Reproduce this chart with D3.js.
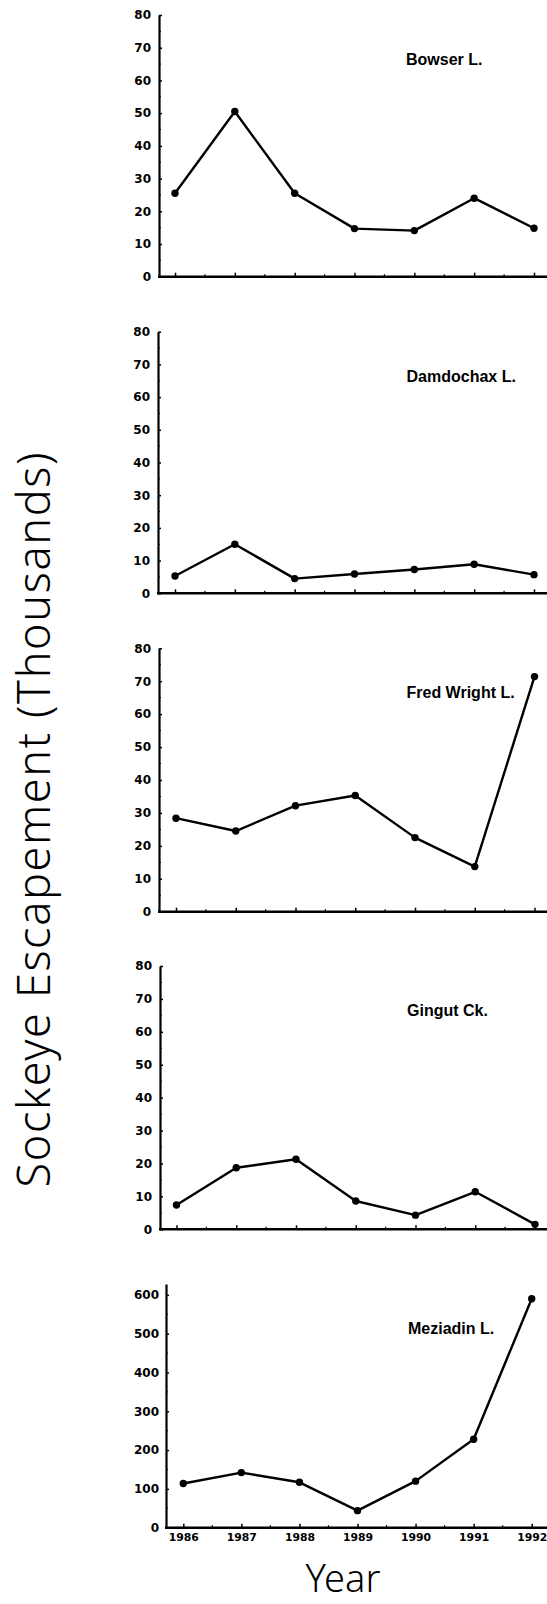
<!DOCTYPE html>
<html>
<head>
<meta charset="utf-8">
<script src="https://cdn.jsdelivr.net/npm/d3@7"></script>
<style>
  html, body { margin: 0; padding: 0; background: #fff; }
  svg { display: block; }
</style>
</head>
<body>
<script>
// ---- DATA ----
const years = [1986, 1987, 1988, 1989, 1990, 1991, 1992];
const lakes = ["Bowser L.", "Damdochax L.", "Fred Wright L.", "Gingut Ck.", "Meziadin L."];
const bowser     = [25.5, 50.5, 25.5, 14.7, 14.1, 24.0, 14.8];
const damdochax  = [5.3, 15.0, 4.5, 5.9, 7.3, 8.9, 5.7];
const fredWright = [28.4, 24.5, 32.2, 35.3, 22.5, 13.7, 71.4];
const gingut     = [7.4, 18.7, 21.3, 8.6, 4.3, 11.4, 1.5];
const meziadin   = [114, 142, 117, 44, 120, 228, 590];
const smallTicks = [0, 10, 20, 30, 40, 50, 60, 70, 80];
const largeTicks = [0, 100, 200, 300, 400, 500, 600];
const yLabel = "Sockeye Escapement (Thousands)";
const xLabel = "Year";

const W = 547, H = 1604;
const svg = d3.select("body").append("svg").attr("width", W).attr("height", H);

const panels = [
  { name: lakes[0], values: bowser,     ticks: smallTicks, max: 80,  axisX: 159, x0: 175, x1: 534, yTop: 15,    yBot: 276.7, labelX: 406, showYears: false },
  { name: lakes[1], values: damdochax,  ticks: smallTicks, max: 80,  axisX: 158, x0: 175, x1: 534, yTop: 331.7, yBot: 593.3, labelX: 406.5, showYears: false },
  { name: lakes[2], values: fredWright, ticks: smallTicks, max: 80,  axisX: 159, x0: 176, x1: 534.5, yTop: 648.3, yBot: 911.7, labelX: 406.5, showYears: false },
  { name: lakes[3], values: gingut,     ticks: smallTicks, max: 80,  axisX: 160, x0: 176.5, x1: 535, yTop: 966,   yBot: 1229.3, labelX: 407, showYears: false },
  { name: lakes[4], values: meziadin,   ticks: largeTicks, max: 628, axisX: 166, x0: 183.3, x1: 531.7, yTop: 1284, yBot: 1527.7, labelX: 408, showYears: true }
];

panels.forEach(p => {
  const g = svg.append("g");
  const x = d3.scaleLinear().domain([years[0], years[years.length - 1]]).range([p.x0, p.x1]);
  const y = d3.scaleLinear().domain([0, p.max]).range([p.yBot, p.yTop]);

  // y axis (major ticks inward)
  const yAxis = d3.axisLeft(y).tickValues(p.ticks).tickSizeInner(-3).tickSizeOuter(0)
    .tickPadding(p.showYears ? 7 : 8).tickFormat(d3.format("d"));
  const ya = g.append("g").attr("transform", `translate(${p.axisX},0)`).call(yAxis);
  ya.select(".domain").attr("stroke", "#000").attr("stroke-width", 2.2);
  ya.selectAll(".tick line").attr("stroke", "#000").attr("stroke-width", 1.5);
  ya.selectAll(".tick text")
    .attr("font-family", "'DejaVu Sans', sans-serif").attr("font-weight", "bold")
    .attr("font-size", 12).attr("fill", "#000");

  // minor y ticks
  const step = p.ticks[1] - p.ticks[0];
  const minor = p.ticks.slice(0, -1).map(t => t + step / 2);
  g.append("g").selectAll("line").data(minor).join("line")
    .attr("x1", p.axisX).attr("x2", p.axisX + 2)
    .attr("y1", d => y(d)).attr("y2", d => y(d))
    .attr("stroke", "#000").attr("stroke-width", 1);

  // x axis line
  g.append("line").attr("x1", p.axisX - 1).attr("x2", W)
    .attr("y1", p.yBot).attr("y2", p.yBot)
    .attr("stroke", "#000").attr("stroke-width", 2.4);

  // x ticks (upward)
  const xAxis = d3.axisBottom(x).tickValues(years).tickSizeInner(-4).tickSizeOuter(0)
    .tickPadding(6).tickFormat(p.showYears ? d3.format("d") : () => "");
  const xa = g.append("g").attr("transform", `translate(0,${p.yBot})`).call(xAxis);
  xa.select(".domain").remove();
  xa.selectAll(".tick line").attr("stroke", "#000").attr("stroke-width", 1.5);
  xa.selectAll(".tick text")
    .attr("font-family", "'DejaVu Sans', sans-serif").attr("font-weight", "bold")
    .attr("font-size", 10.8).attr("fill", "#000").attr("dy", "0.65em");

  const halfYears = years.slice(0, -1).map(d => d + 0.5);
  g.append("g").selectAll("line").data(halfYears).join("line")
    .attr("x1", d => x(d)).attr("x2", d => x(d))
    .attr("y1", p.yBot).attr("y2", p.yBot - 2.5)
    .attr("stroke", "#000").attr("stroke-width", 1.2);

  // line + points
  const pts = years.map((yr, i) => [yr, p.values[i]]);
  g.append("path").datum(pts)
    .attr("fill", "none").attr("stroke", "#000").attr("stroke-width", 2.4)
    .attr("stroke-linejoin", "round")
    .attr("d", d3.line().x(d => x(d[0])).y(d => y(d[1])));
  g.append("g").selectAll("circle").data(pts).join("circle")
    .attr("cx", d => x(d[0])).attr("cy", d => y(d[1])).attr("r", 3.7)
    .attr("fill", "#000");

  // panel label
  g.append("text").attr("x", p.labelX).attr("y", p.yTop + 50)
    .attr("font-family", "'Liberation Sans', Arial, sans-serif").attr("font-weight", "bold")
    .attr("font-size", 16).attr("fill", "#000").text(p.name);
});

// axis titles
svg.append("text")
  .attr("transform", "translate(50,820) rotate(-90)")
  .attr("text-anchor", "middle")
  .attr("font-family", "'Noto Sans', sans-serif").attr("font-size", 45)
  .attr("font-weight", 300)
  .attr("textLength", 735).attr("lengthAdjust", "spacing")
  .attr("fill", "#000").text(yLabel);

svg.append("text")
  .attr("x", 343).attr("y", 1592).attr("text-anchor", "middle")
  .attr("font-family", "'Noto Sans', sans-serif").attr("font-size", 38)
  .attr("font-weight", 300)
  .attr("fill", "#000").text(xLabel);
</script>
</body>
</html>
